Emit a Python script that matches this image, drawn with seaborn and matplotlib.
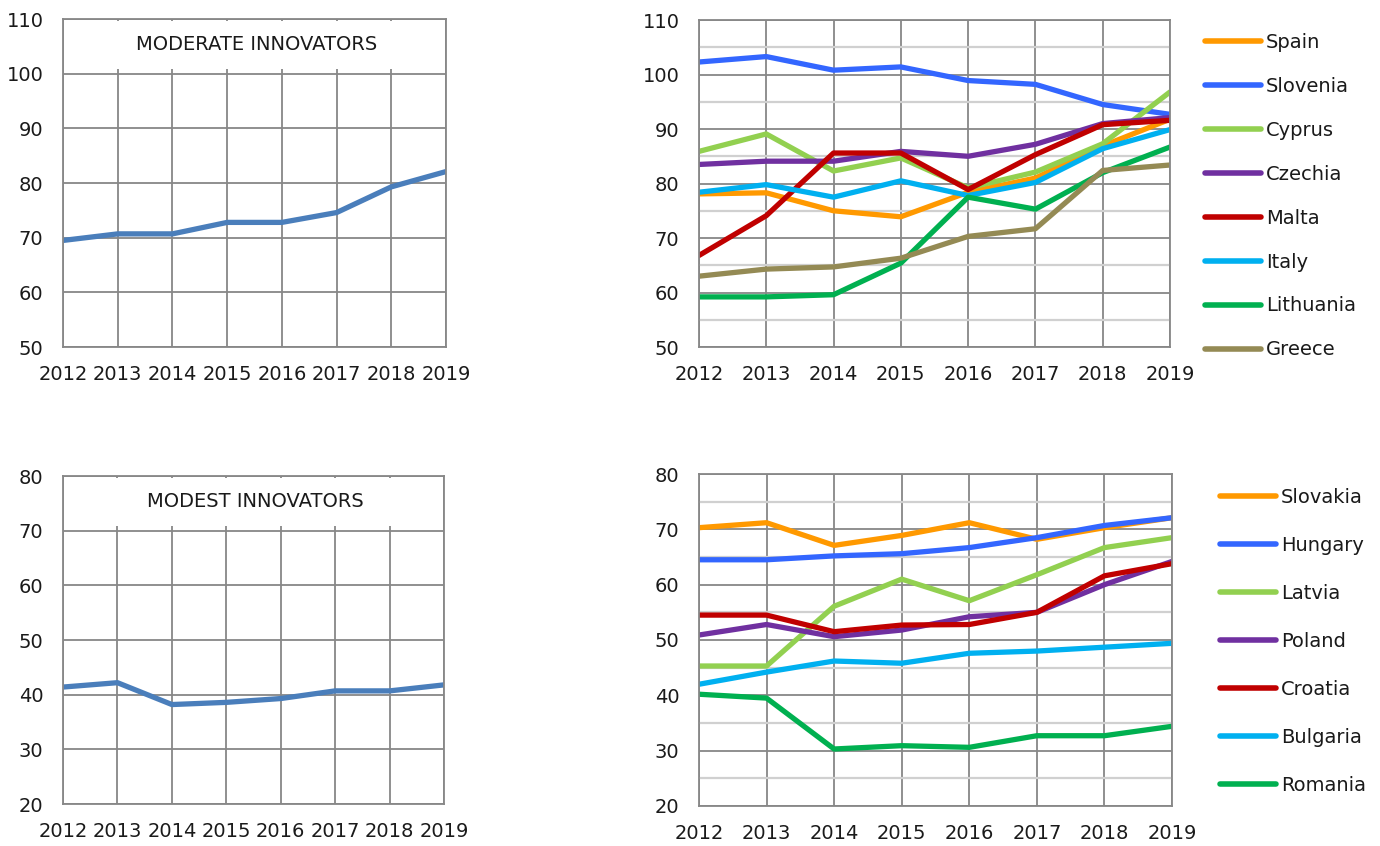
import matplotlib
matplotlib.use("Agg")
import matplotlib.pyplot as plt
from matplotlib.patches import Rectangle
import seaborn as sns
import pandas as pd

years = [2012, 2013, 2014, 2015, 2016, 2017, 2018, 2019]

# Moderate innovators (group average)
moderate_avg = [69.5, 70.7, 70.7, 72.8, 72.8, 74.6, 79.3, 82.1]
# Modest innovators (group average)
modest_avg = [41.4, 42.2, 38.2, 38.6, 39.3, 40.7, 40.7, 41.8]

moderate_countries = ["Spain", "Slovenia", "Cyprus", "Czechia", "Malta", "Italy", "Lithuania", "Greece"]
spain = [78.1, 78.3, 75.0, 73.9, 78.4, 81.0, 86.9, 91.8]
slovenia = [102.3, 103.3, 100.8, 101.4, 98.9, 98.2, 94.5, 92.7]
cyprus = [85.9, 89.1, 82.3, 84.7, 79.2, 82.1, 87.3, 96.8]
czechia = [83.5, 84.1, 84.1, 85.9, 85.0, 87.2, 91.0, 92.1]
malta = [66.8, 74.1, 85.6, 85.6, 78.9, 85.3, 90.8, 91.6]
italy = [78.4, 79.8, 77.5, 80.5, 77.8, 80.2, 86.4, 89.9]
lithuania = [59.2, 59.2, 59.6, 65.4, 77.5, 75.3, 82.0, 86.7]
greece = [63.0, 64.3, 64.7, 66.3, 70.3, 71.7, 82.4, 83.4]

modest_countries = ["Slovakia", "Hungary", "Latvia", "Poland", "Croatia", "Bulgaria", "Romania"]
slovakia = [70.3, 71.2, 67.1, 68.9, 71.2, 68.2, 70.3, 72.1]
hungary = [64.5, 64.5, 65.2, 65.6, 66.7, 68.5, 70.7, 72.1]
latvia = [45.3, 45.3, 56.1, 61.0, 57.1, 61.8, 66.7, 68.5]
poland = [50.9, 52.8, 50.6, 51.8, 54.2, 55.0, 60.0, 64.2]
croatia = [54.5, 54.5, 51.5, 52.7, 52.8, 55.0, 61.6, 63.8]
bulgaria = [42.0, 44.2, 46.2, 45.8, 47.6, 48.0, 48.7, 49.4]
romania = [40.2, 39.5, 30.3, 30.9, 30.6, 32.7, 32.7, 34.4]

moderate_colors = ["#FF9900", "#3366FF", "#92D050", "#7030A0", "#C00000", "#00B0F0", "#00B050", "#948A54"]
modest_colors = ["#FF9900", "#3366FF", "#92D050", "#7030A0", "#C00000", "#00B0F0", "#00B050"]
avg_color = "#4A7EBB"

moderate_series = [spain, slovenia, cyprus, czechia, malta, italy, lithuania, greece]
modest_series = [slovakia, hungary, latvia, poland, croatia, bulgaria, romania]


def long_df(names, series):
    rows = []
    for n, s in zip(names, series):
        for y, v in zip(years, s):
            rows.append({"year": y, "value": v, "country": n})
    return pd.DataFrame(rows)


sns.set_theme(style="white")
plt.rcParams["font.family"] = ["DejaVu Sans"]

GRID = "#878787"
MINOR = "#d0d0d0"
TXT = "#1a1a1a"
FS = 14

fig = plt.figure(figsize=(13.8, 8.46), dpi=100)
ax_tl = fig.add_axes([0.0457, 0.5898, 0.2775, 0.3877])
ax_tr = fig.add_axes([0.5065, 0.5898, 0.3413, 0.3865])
ax_bl = fig.add_axes([0.0457, 0.0496, 0.2761, 0.3877])
ax_br = fig.add_axes([0.5065, 0.0473, 0.3428, 0.3924])


def style_axes(ax, ylo, yhi, minor):
    ax.set_xlim(2012, 2019)
    ax.set_ylim(ylo, yhi)
    ax.set_xticks(years)
    ax.set_xticklabels([str(y) for y in years])
    ax.set_yticks(list(range(ylo, yhi + 1, 10)))
    if minor:
        ax.set_yticks(list(range(ylo + 5, yhi, 10)), minor=True)
        ax.grid(True, which="minor", axis="y", color=MINOR, linewidth=1.6)
    ax.grid(True, which="major", axis="both", color=GRID, linewidth=1.3)
    ax.set_axisbelow(True)
    for sp in ax.spines.values():
        sp.set_color(GRID)
        sp.set_linewidth(1.3)
    ax.tick_params(axis="both", which="major", length=3.6, width=1.3, color=GRID,
                   labelsize=FS, labelcolor=TXT)
    ax.tick_params(axis="x", which="major", pad=9.5)
    ax.tick_params(axis="y", which="major", pad=10.5)
    ax.tick_params(axis="y", which="minor", length=0)
    ax.set_xlabel("")
    ax.set_ylabel("")


# Left panels: group averages
df_mod = pd.DataFrame({"year": years, "value": moderate_avg})
sns.lineplot(data=df_mod, x="year", y="value", color=avg_color, linewidth=3.8, ax=ax_tl)
style_axes(ax_tl, 50, 110, False)
ax_tl.add_patch(Rectangle((0.004, (100.8 - 50) / 60), 0.990, (109.6 - 100.8) / 60,
                          transform=ax_tl.transAxes, facecolor="white", edgecolor="none", zorder=1))
ax_tl.text(0.505, (105.4 - 50) / 60, "MODERATE INNOVATORS", transform=ax_tl.transAxes,
           ha="center", va="center", fontsize=FS, color=TXT, zorder=3)

df_mst = pd.DataFrame({"year": years, "value": modest_avg})
sns.lineplot(data=df_mst, x="year", y="value", color=avg_color, linewidth=3.8, ax=ax_bl)
style_axes(ax_bl, 20, 80, False)
ax_bl.add_patch(Rectangle((0.004, (70.8 - 20) / 60), 0.990, (79.6 - 70.8) / 60,
                          transform=ax_bl.transAxes, facecolor="white", edgecolor="none", zorder=1))
ax_bl.text(0.505, (75.3 - 20) / 60, "MODEST INNOVATORS", transform=ax_bl.transAxes,
           ha="center", va="center", fontsize=FS, color=TXT, zorder=3)

# Right panels: countries
df_tr = long_df(moderate_countries, moderate_series)
sns.lineplot(data=df_tr, x="year", y="value", hue="country", hue_order=moderate_countries,
             palette=moderate_colors, linewidth=3.8, ax=ax_tr)
style_axes(ax_tr, 50, 110, True)
h, l = ax_tr.get_legend_handles_labels()
ax_tr.legend(h, l, loc="upper left", bbox_to_anchor=(1.074, 0.960), frameon=False,
             fontsize=FS, handlelength=2.9, handletextpad=0.25, labelspacing=1.28,
             borderaxespad=0, borderpad=0)

df_br = long_df(modest_countries, modest_series)
sns.lineplot(data=df_br, x="year", y="value", hue="country", hue_order=modest_countries,
             palette=modest_colors, linewidth=3.8, ax=ax_br)
style_axes(ax_br, 20, 80, True)
h, l = ax_br.get_legend_handles_labels()
ax_br.legend(h, l, loc="upper left", bbox_to_anchor=(1.101, 0.958), frameon=False,
             fontsize=FS, handlelength=2.9, handletextpad=0.25, labelspacing=1.49,
             borderaxespad=0, borderpad=0)

for ax in (ax_tr, ax_br):
    leg = ax.get_legend()
    for ln in leg.get_lines():
        ln.set_linewidth(4)
        ln.set_solid_capstyle("round")
    for t in leg.get_texts():
        t.set_color(TXT)

fig.savefig("out.png", dpi=100)
